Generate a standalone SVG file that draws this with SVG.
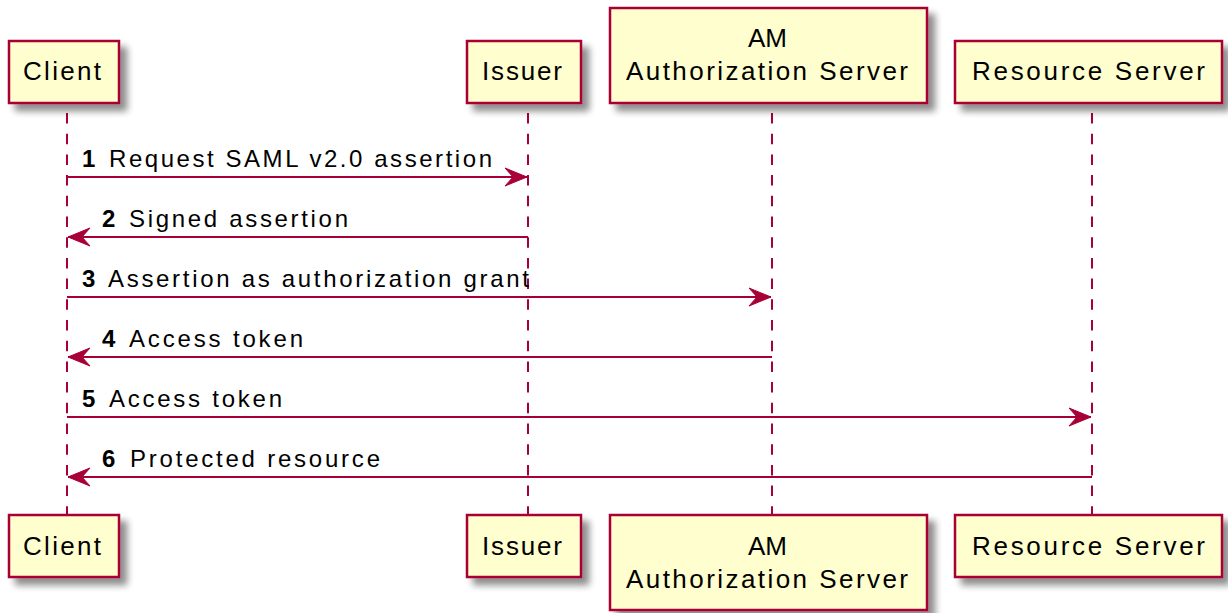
<svg xmlns="http://www.w3.org/2000/svg" width="1228" height="613" viewBox="0 0 1228 613">
<style>
.box{fill:#FEFECE;stroke:#A80036;stroke-width:2.5;filter:url(#sh)}
.life{stroke:#A80036;stroke-width:2;stroke-dasharray:10.5 10.2;fill:none}
.msg{stroke:#A80036;stroke-width:2;fill:none;marker-end:url(#ah)}
.pt{font-family:"Liberation Sans",Arial,sans-serif;font-size:26px;fill:#000}
.mt{font-family:"Liberation Sans",Arial,sans-serif;font-size:24px;fill:#000}
.num{font-family:"Liberation Sans",Arial,sans-serif;font-size:24px;font-weight:bold;fill:#000}
</style>
<defs>
<filter id="sh" x="-20%" y="-20%" width="150%" height="160%">
<feGaussianBlur in="SourceAlpha" stdDeviation="3.5"/>
<feOffset dx="7" dy="7" result="b"/>
<feComponentTransfer><feFuncA type="linear" slope="0.45"/></feComponentTransfer>
<feMerge><feMergeNode/><feMergeNode in="SourceGraphic"/></feMerge>
</filter>
<marker id="ah" markerUnits="userSpaceOnUse" viewBox="-24 -11 25 22" refX="0" refY="0" markerWidth="25" markerHeight="22" orient="auto" overflow="visible">
<path d="M0,0 L-22,-9 L-14,0 L-22,9 Z" fill="#A80036" stroke="#A80036" stroke-width="1"/>
</marker>
</defs>
<g id="lifelines">
<line class="life" x1="67" y1="113" x2="67" y2="514"/>
<line class="life" x1="528" y1="113" x2="528" y2="514"/>
<line class="life" x1="772" y1="113" x2="772" y2="514"/>
<line class="life" x1="1092" y1="113" x2="1092" y2="514"/>
</g>
<g id="client-top"><rect class="box" x="9" y="41" width="110" height="62"/><text class="pt" x="23" y="80" textLength="78" lengthAdjust="spacing">Client</text></g>
<g id="issuer-top"><rect class="box" x="467" y="41" width="114" height="62"/><text class="pt" x="482" y="80" textLength="80" lengthAdjust="spacing">Issuer</text></g>
<g id="am-top"><rect class="box" x="610" y="8" width="317" height="95"/><text class="pt" x="748" y="47">AM</text><text class="pt" x="626" y="80" textLength="282" lengthAdjust="spacing">Authorization Server</text></g>
<g id="rs-top"><rect class="box" x="955" y="41" width="267" height="62"/><text class="pt" x="972" y="80" textLength="233" lengthAdjust="spacing">Resource Server</text></g>
<g id="client-bottom"><rect class="box" x="9" y="515" width="110" height="62"/><text class="pt" x="23" y="555" textLength="78" lengthAdjust="spacing">Client</text></g>
<g id="issuer-bottom"><rect class="box" x="467" y="515" width="114" height="62"/><text class="pt" x="482" y="555" textLength="80" lengthAdjust="spacing">Issuer</text></g>
<g id="am-bottom"><rect class="box" x="610" y="515" width="317" height="95"/><text class="pt" x="748" y="555">AM</text><text class="pt" x="626" y="588" textLength="282" lengthAdjust="spacing">Authorization Server</text></g>
<g id="rs-bottom"><rect class="box" x="955" y="515" width="267" height="62"/><text class="pt" x="972" y="555" textLength="233" lengthAdjust="spacing">Resource Server</text></g>
<g id="connectors">
<line class="msg" x1="67" y1="177" x2="527" y2="177"/>
<line class="msg" x1="528" y1="237" x2="68" y2="237"/>
<line class="msg" x1="67" y1="297" x2="771" y2="297"/>
<line class="msg" x1="772" y1="357" x2="68" y2="357"/>
<line class="msg" x1="67" y1="417" x2="1091" y2="417"/>
<line class="msg" x1="1092" y1="477" x2="68" y2="477"/>
</g>
<g id="labels">
<text class="num" x="82" y="167">1</text><text class="mt" x="109" y="167" textLength="383" lengthAdjust="spacing">Request SAML v2.0 assertion</text>
<text class="num" x="102" y="227">2</text><text class="mt" x="129" y="227" textLength="219" lengthAdjust="spacing">Signed assertion</text>
<text class="num" x="82" y="287">3</text><text class="mt" x="108" y="287" textLength="421" lengthAdjust="spacing">Assertion as authorization grant</text>
<text class="num" x="102" y="347">4</text><text class="mt" x="129" y="347" textLength="174" lengthAdjust="spacing">Access token</text>
<text class="num" x="82" y="407">5</text><text class="mt" x="109" y="407" textLength="173" lengthAdjust="spacing">Access token</text>
<text class="num" x="102" y="467">6</text><text class="mt" x="130" y="467" textLength="250" lengthAdjust="spacing">Protected resource</text>
</g>
</svg>
